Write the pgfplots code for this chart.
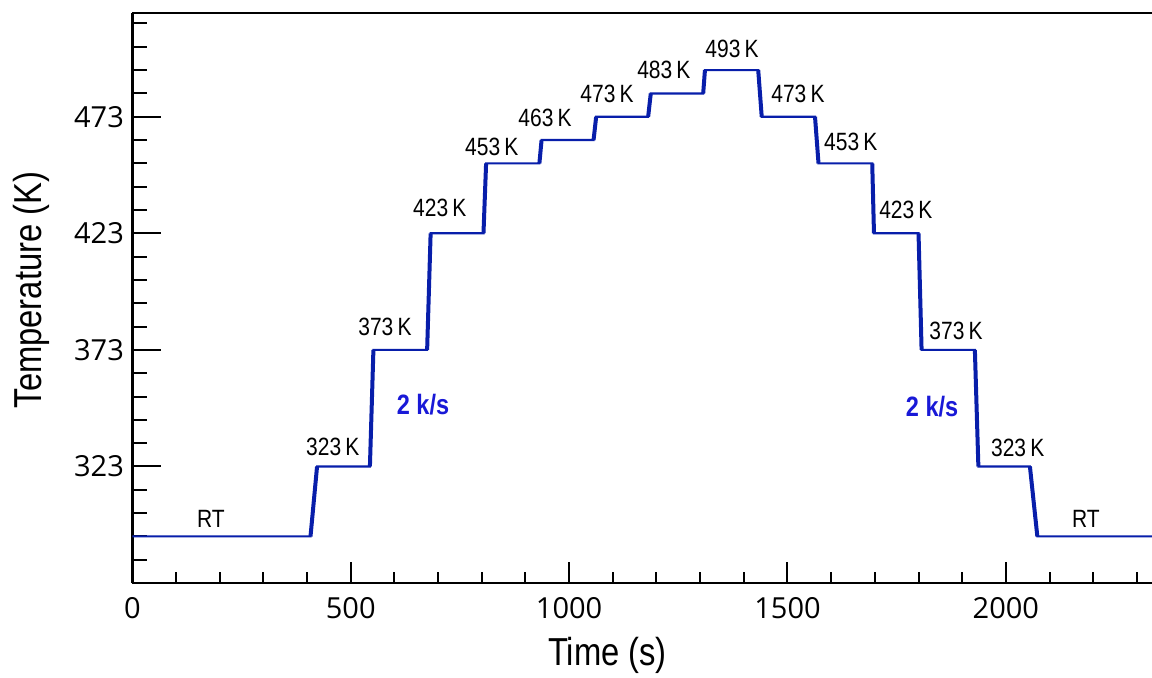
\documentclass[border=0pt]{standalone}
\usepackage{fontspec}
\setmainfont{Open Sans}
\newfontfamily\narrow[FakeStretch=0.84]{Liberation Sans}
\usepackage{pgfplots}
\pgfplotsset{compat=1.18}
\definecolor{lineblue}{RGB}{8,30,170}
\definecolor{txtblue}{RGB}{25,25,215}
\tikzset{ann/.style={font=\narrow\fontsize{12.5}{14}\selectfont, inner sep=1pt},
         rate/.style={text=txtblue, font=\narrow\bfseries\fontsize{14}{16}\selectfont, inner sep=1pt}}
\begin{document}
\begin{tikzpicture}
\begin{axis}[
  scale only axis,
  width=509.85pt, height=285pt,
  xmin=0, xmax=2334.5, ymin=273, ymax=517.5,
  axis x line*=bottom, axis y line*=left,
  axis line style={line width=1.3pt, black},
  xtick={0,500,1000,1500,2000},
  minor xtick={100,200,300,400,600,700,800,900,1100,1200,1300,1400,1600,1700,1800,1900,2100,2200,2300},
  ytick={323,373,423,473},
  minor ytick={283,293,303,313,333,343,353,363,383,393,403,413,433,443,453,463,483,493,503,513},
  tick align=inside,
  every tick/.style={line width=1pt, black},
  xtick style={/pgfplots/major tick length=10.5pt,/pgfplots/minor tick length=5.5pt},
  ytick style={/pgfplots/major tick length=14.5pt,/pgfplots/minor tick length=7.5pt},
  /pgf/number format/assume math mode=true,
  /pgf/number format/1000 sep={},
  tick label style={font=\fontsize{14.5}{16}\selectfont},
  xticklabel style={anchor=north, inner sep=0pt, yshift=-7pt},
  yticklabel style={anchor=east, inner sep=0pt, xshift=-4pt},
  xlabel={\narrow\fontsize{19.5}{22}\selectfont Time (s)},
  ylabel={\narrow\fontsize{19.5}{22}\selectfont Temperature (K)},
  xlabel style={at={([yshift=-41pt]axis description cs:0.466,0)}, anchor=base},
  ylabel style={at={([xshift=-45.5pt]axis description cs:0,0.514)}, anchor=base, rotate=0},
  clip=false,
  unbounded coords=jump,
]
\addplot[lineblue, line width=1.1pt] coordinates {
(0,293)(408,293)(423,323)(544,323)(552,373)(675,373)(683,423)(804,423)(810,453)(932,453)(937,463)(1056,463)(1062,473)(1181,473)(1187,483)(1307,483)(1311,493)(1433,493)(1441,473)(1563,473)(1571,453)(1694,453)(1698,423)(1800,423)(1807,373)(1929,373)(1937,323)(2055,323)(2072,293)(2334.5,293)
};
\addplot[lineblue, line width=2pt] coordinates {
(408,293)(423,323)(480,nan)(544,323)(552,373)(600,nan)(675,373)(683,423)(750,nan)(804,423)(810,453)(850,nan)(932,453)(937,463)(1000,nan)(1056,463)(1062,473)(1100,nan)(1181,473)(1187,483)(1250,nan)(1307,483)(1311,493)(1350,nan)(1433,493)(1441,473)(1500,nan)(1563,473)(1571,453)(1600,nan)(1694,453)(1698,423)(1750,nan)(1800,423)(1807,373)(1850,nan)(1929,373)(1937,323)(2000,nan)(2055,323)(2072,293)
};
\draw[line width=1.3pt, black] (rel axis cs:0,1) -- (rel axis cs:1,1);
\node[ann] at (axis cs:180,300.5) {RT};
\node[ann] at (axis cs:459,331.4) {323\,K};
\node[ann] at (axis cs:578.5,382.9) {373\,K};
\node[ann] at (axis cs:704,434) {423\,K};
\node[ann] at (axis cs:823,460.2) {453\,K};
\node[ann] at (axis cs:945,472.3) {463\,K};
\node[ann] at (axis cs:1087,483) {473\,K};
\node[ann] at (axis cs:1217,492.9) {483\,K};
\node[ann] at (axis cs:1373,501.9) {493\,K};
\node[ann] at (axis cs:1524,482.6) {473\,K};
\node[ann] at (axis cs:1645,462.4) {453\,K};
\node[ann] at (axis cs:1771,433.2) {423\,K};
\node[ann] at (axis cs:1886,381.2) {373\,K};
\node[ann] at (axis cs:2027,331) {323\,K};
\node[ann] at (axis cs:2183,300.5) {RT};
\node[rate] at (axis cs:665.5,349.4) {2 k/s};
\node[rate] at (axis cs:1831,348.6) {2 k/s};
\end{axis}
\pgfresetboundingbox
\path (current axis.south west) ++(-66.15pt,-47pt) rectangle ++(576pt,338.5pt);
\end{tikzpicture}
\end{document}
